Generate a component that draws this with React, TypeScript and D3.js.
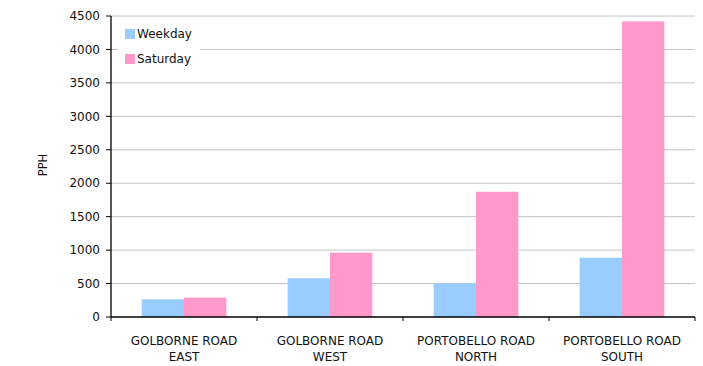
import React from "react";
import * as d3 from "d3";

const categories = [
  ["GOLBORNE ROAD", "EAST"],
  ["GOLBORNE ROAD", "WEST"],
  ["PORTOBELLO ROAD", "NORTH"],
  ["PORTOBELLO ROAD", "SOUTH"],
];
const seriesNames = ["Weekday", "Saturday"];
const weekday = [265, 578, 503, 886];
const saturday = [290, 962, 1872, 4420];
const yTicks = [0, 500, 1000, 1500, 2000, 2500, 3000, 3500, 4000, 4500];
const colors = ["#99CCFF", "#FF99CC"];

export default function App() {
  const W = 703, H = 366;
  const left = 111, right = 695, top = 16, bottom = 317;
  const keys = categories.map((c) => c.join(" "));
  const x = d3.scaleBand().domain(keys).range([left, right]).paddingInner(0.42).paddingOuter(0.21);
  const x1 = d3.scaleBand().domain(seriesNames).range([0, x.bandwidth()]).padding(0);
  const y = d3.scaleLinear().domain([0, 4500]).range([bottom, top]);
  const series = [weekday, saturday];
  const step = x.step();
  const boundaries = d3.range(keys.length + 1).map((i) => left + i * step);
  const font = "'DejaVu Sans', sans-serif";

  return (
    <svg width={W} height={H} style={{ position: "absolute", left: 0, top: 0, background: "#fff" }} fontFamily={font}>
      <rect x={0} y={0} width={W} height={H} fill="#fff" />
      {yTicks.map((t) => (
        <g key={t}>
          {t > 0 && <line x1={left} x2={right} y1={y(t)} y2={y(t)} stroke="#c4c4c4" strokeWidth={1} />}
          <line x1={left - 5} x2={left} y1={y(t)} y2={y(t)} stroke="#000" strokeWidth={1} />
          <text x={left - 11} y={y(t)} dy="0.35em" textAnchor="end" fontSize={12} fill="#111">
            {t}
          </text>
        </g>
      ))}
      {keys.map((k, i) =>
        seriesNames.map((s, j) => (
          <rect
            key={k + s}
            x={(x(k) as number) + (x1(s) as number)}
            y={y(series[j][i])}
            width={x1.bandwidth()}
            height={bottom - y(series[j][i])}
            fill={colors[j]}
          />
        ))
      )}
      <line x1={left} x2={left} y1={top} y2={bottom} stroke="#000" strokeWidth={1.3} />
      <line x1={left} x2={right} y1={bottom} y2={bottom} stroke="#000" strokeWidth={1.3} />
      {boundaries.map((b, i) => (
        <line key={i} x1={b} x2={b} y1={bottom} y2={bottom + 4} stroke="#000" strokeWidth={1} />
      ))}
      {keys.map((k, i) => (
        <text key={k} textAnchor="middle" fontSize={12} fill="#111">
          {categories[i].map((line, li) => (
            <tspan key={li} x={(x(k) as number) + x.bandwidth() / 2} y={345 + li * 16}>
              {line}
            </tspan>
          ))}
        </text>
      ))}
      <text transform={`translate(47,165) rotate(-90)`} textAnchor="middle" fontSize={11.5} fill="#111">
        PPH
      </text>
      <rect x={118} y={22} width={82} height={48} fill="#fff" />
      {seriesNames.map((s, j) => (
        <g key={s}>
          <rect x={125} y={29 + j * 25} width={10} height={10} fill={colors[j]} />
          <text x={137} y={38 + j * 25} fontSize={12} fill="#111">
            {s}
          </text>
        </g>
      ))}
    </svg>
  );
}
